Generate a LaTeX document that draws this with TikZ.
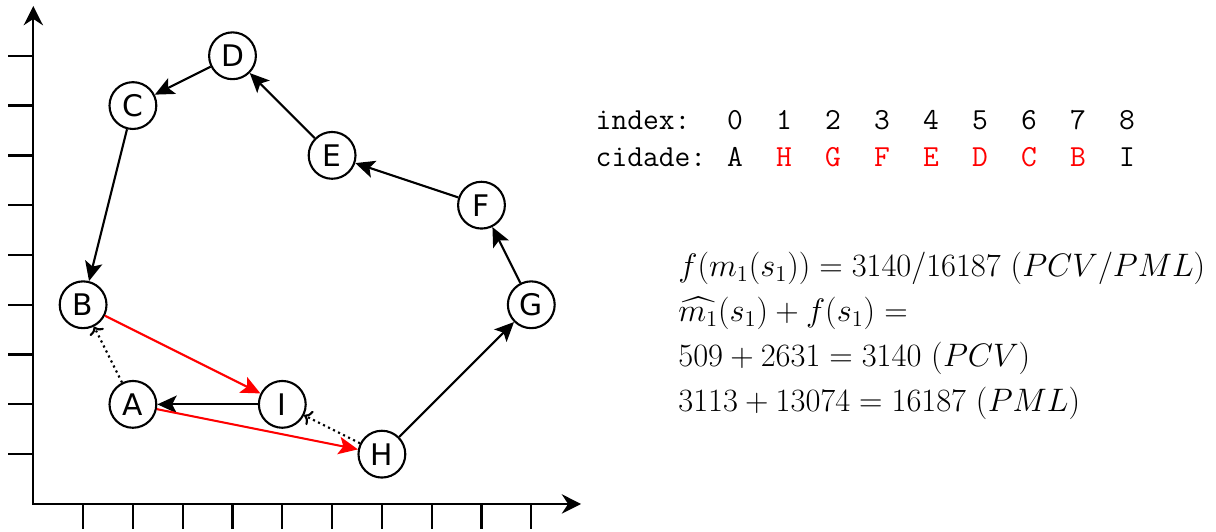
\documentclass[tikz,border=0pt]{standalone}
\usepackage{fontspec}
\usepackage{amsmath}
\usetikzlibrary{arrows.meta}
\newfontfamily\citysf{DejaVu Sans}
\definecolor{tspred}{HTML}{FF0000}

\begin{document}
\begin{tikzpicture}[x=1cm,y=1cm,
  axis/.style={line width=1.3pt},
  city/.style={circle,draw,fill=white,line width=1.2pt,minimum size=0.94cm,inner sep=0pt,
    font=\citysf\fontsize{17}{17}\selectfont},
  tour/.style={line width=1.2pt,-{Stealth[length=11pt,width=10pt,inset=2.5pt]}},
  swap/.style={tour,tspred},
  hint/.style={line width=1.2pt,dotted,-{To[length=4pt,width=9pt]}},
  tt/.style={font=\ttfamily\fontsize{17.5}{20}\selectfont},
  eq/.style={anchor=base west,font=\fontsize{17.28}{22}\selectfont,scale=1.075,transform shape}]
  \useasboundingbox (-0.669,-0.562) rectangle (23.75,10.12);
  \draw[axis,{Stealth[length=11pt,width=11pt]}-{Stealth[length=11pt,width=11pt]}] (0,10) |- (11,0);
  \foreach \i in {1,...,10} \draw[axis] (\i,0) -- (\i,-0.5);
  \foreach \j in {1,...,9} \draw[axis] (0,\j) -- (-0.5,\j);

  \node[city] (A) at (2,2) {A};
  \node[city] (B) at (1,4) {B};
  \node[city] (C) at (2,8) {C};
  \node[city] (D) at (4,9) {D};
  \node[city] (E) at (6,7) {E};
  \node[city] (F) at (9,6) {F};
  \node[city] (G) at (10,4) {G};
  \node[city] (H) at (7,1) {H};
  \node[city] (I) at (5,2) {I};

  \draw[tour] (D) -- (C);
  \draw[tour] (C) -- (B);
  \draw[tour] (E) -- (D);
  \draw[tour] (F) -- (E);
  \draw[tour] (G) -- (F);
  \draw[tour] (H) -- (G);
  \draw[tour] (I) -- (A);
  \draw[swap] (B) -- (I);
  \draw[swap] (A) -- (H);
  \draw[hint] (A) -- (B);
  \draw[hint] (H) -- (I);

  \node[tt,anchor=base west] (idx) at (11.17,7.52) {index:};
  \node[tt,anchor=base west] (cid) at (11.17,6.77) {cidade:};
  \foreach \k/\c/\col in {0/A/black,1/H/tspred,2/G/tspred,3/F/tspred,4/E/tspred,
      5/D/tspred,6/C/tspred,7/B/tspred,8/I/black} {
    \node[tt,anchor=base] (i\k) at (14.09+0.984*\k,7.52) {\k};
    \node[tt,anchor=base,text=\col] (c\k) at (14.09+0.984*\k,6.77) {\c};
  }

  \node[eq] (m1) at (12.82,4.56) {$f(m_1(s_1)) = 3140/16187\ (PCV/PML)$};
  \node[eq] (m2) at (12.82,3.66) {$\widehat{m_1}(s_1) + f(s_1) =$};
  \node[eq] (m3) at (12.82,2.76) {$509 + 2631 = 3140\ (PCV)$};
  \node[eq] (m4) at (12.82,1.86) {$3113 + 13074 = 16187\ (PML)$};
\end{tikzpicture}
\end{document}
